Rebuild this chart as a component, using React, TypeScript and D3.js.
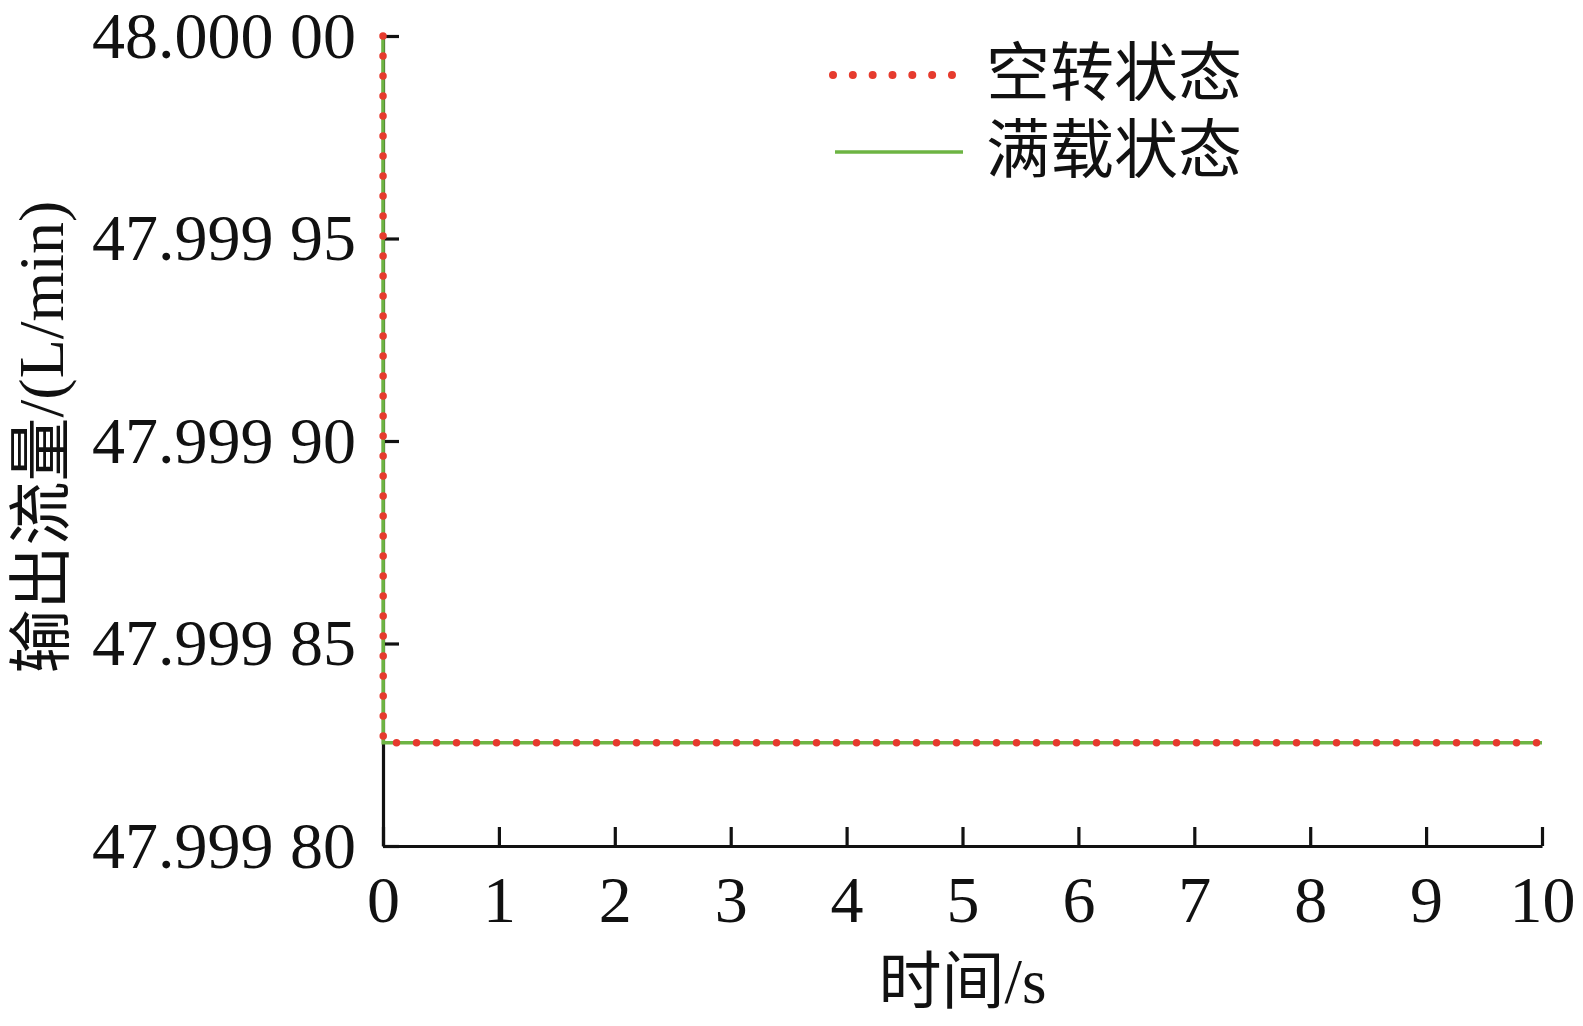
import React, { useEffect, useRef } from "react";
import * as d3 from "d3";

// ---- data ----
const timeS: number[] = [0, 0.002, 10];
const idleFlow: number[] = [48.0, 47.9998255, 47.9998255]; // 空转状态
const fullFlow: number[] = [48.0, 47.9998255, 47.9998255]; // 满载状态
const xTicks: number[] = [0, 1, 2, 3, 4, 5, 6, 7, 8, 9, 10];
const yTicks: number[] = [47.9998, 47.99985, 47.9999, 47.99995, 48.0];
const seriesNames: string[] = ["空转状态", "满载状态"];
const xTitle = "时间/s";
const yTitle = "输出流量/(L/min)";

const W = 1583;
const H = 1026;
const M = { left: 383, right: 1542, top: 36, bottom: 846 };
const RED = "#e63b2e";
const GREEN = "#6db443";
const NUM_FONT = "'Liberation Serif', 'Times New Roman', serif";
const MIX_FONT = "'Liberation Serif', 'Noto Sans CJK SC', serif";

function fmtY(v: number): string {
  const s = v.toFixed(5);
  const [a, b] = s.split(".");
  return `${a}.${b.slice(0, 3)} ${b.slice(3)}`;
}

export default function App() {
  const ref = useRef<SVGSVGElement | null>(null);

  useEffect(() => {
    const svg = d3.select(ref.current);
    svg.selectAll("*").remove();

    const x = d3.scaleLinear().domain([0, 10]).range([M.left, M.right]);
    const y = d3.scaleLinear().domain([47.9998, 48.0]).range([M.bottom, M.top]);

    // axes
    const gx = svg
      .append("g")
      .attr("transform", `translate(0,${M.bottom})`)
      .call(
        d3
          .axisBottom(x)
          .tickValues(xTicks)
          .tickSizeInner(-19)
          .tickSizeOuter(0)
          .tickPadding(29)
          .tickFormat((d) => String(d))
      );
    gx.selectAll("path.domain").attr("stroke", "#111").attr("stroke-width", 3.2);
    gx.selectAll(".tick line").attr("stroke", "#111").attr("stroke-width", 3.2);
    gx.selectAll(".tick text")
      .attr("fill", "#111")
      .style("font-family", NUM_FONT)
      .style("font-size", "66px");

    const gy = svg
      .append("g")
      .attr("transform", `translate(${M.left},0)`)
      .call(
        d3
          .axisLeft(y)
          .tickValues(yTicks)
          .tickSizeInner(-16)
          .tickSizeOuter(0)
          .tickPadding(27)
          .tickFormat((d) => fmtY(d as number))
      );
    gy.selectAll("path.domain").attr("stroke", "#111").attr("stroke-width", 3.2);
    gy.selectAll(".tick line").attr("stroke", "#111").attr("stroke-width", 3.2);
    gy.selectAll(".tick text")
      .attr("fill", "#111")
      .style("font-family", NUM_FONT)
      .style("font-size", "66px");

    // lines
    const idx = timeS.map((_, i) => i);
    const lineFull = d3
      .line<number>()
      .x((i) => x(timeS[i]))
      .y((i) => y(fullFlow[i]));
    const lineIdle = d3
      .line<number>()
      .x((i) => x(timeS[i]))
      .y((i) => y(idleFlow[i]));

    svg
      .append("path")
      .attr("d", lineFull(idx) as string)
      .attr("fill", "none")
      .attr("stroke", GREEN)
      .attr("stroke-width", 3.5);

    svg
      .append("path")
      .attr("d", lineIdle(idx) as string)
      .attr("fill", "none")
      .attr("stroke", RED)
      .attr("stroke-width", 7.5)
      .attr("stroke-linecap", "round")
      .attr("stroke-dasharray", "0 20");

    // legend
    const leg = svg.append("g");
    leg
      .append("line")
      .attr("x1", 833)
      .attr("x2", 952)
      .attr("y1", 75)
      .attr("y2", 75)
      .attr("stroke", RED)
      .attr("stroke-width", 8)
      .attr("stroke-linecap", "round")
      .attr("stroke-dasharray", "0 19.83");
    leg
      .append("line")
      .attr("x1", 835)
      .attr("x2", 963)
      .attr("y1", 152)
      .attr("y2", 152)
      .attr("stroke", GREEN)
      .attr("stroke-width", 3.5);
    seriesNames.forEach((name, i) => {
      leg
        .append("text")
        .attr("x", 986)
        .attr("y", 73 + i * 77)
        .attr("dominant-baseline", "central")
        .style("font-family", MIX_FONT)
        .style("font-size", "64px")
        .attr("fill", "#111")
        .text(name);
    });

    // titles
    svg
      .append("text")
      .attr("x", (M.left + M.right) / 2)
      .attr("y", 982)
      .attr("text-anchor", "middle")
      .attr("dominant-baseline", "central")
      .style("font-family", MIX_FONT)
      .style("font-size", "63px")
      .attr("fill", "#111")
      .text(xTitle);

    svg
      .append("text")
      .attr("transform", `translate(41,437) rotate(-90)`)
      .attr("text-anchor", "middle")
      .attr("dominant-baseline", "central")
      .style("font-family", MIX_FONT)
      .style("font-size", "64px")
      .attr("fill", "#111")
      .text(yTitle);
  }, []);

  return (
    <svg
      ref={ref}
      width={W}
      height={H}
      style={{ position: "absolute", left: 0, top: 0, background: "#fff" }}
    />
  );
}
